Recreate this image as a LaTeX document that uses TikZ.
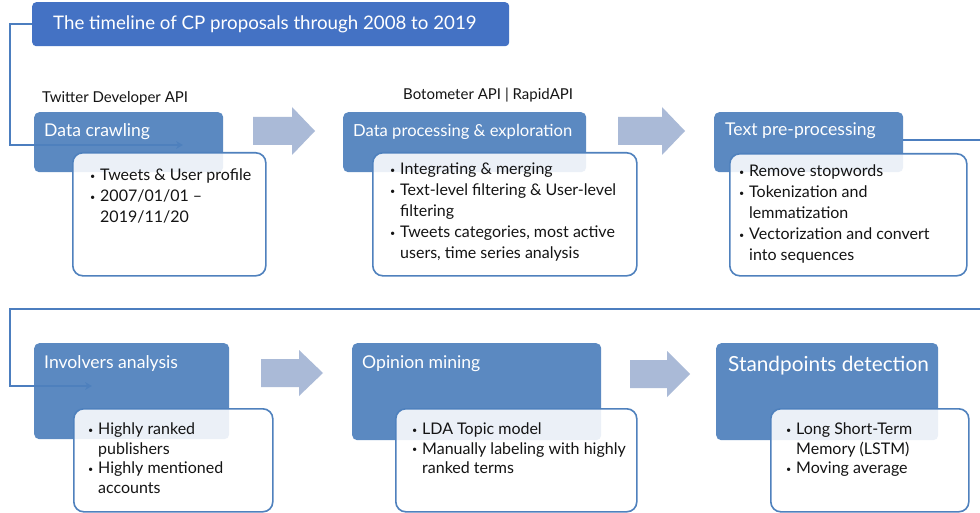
\documentclass[tikz,border=0pt]{standalone}
\usepackage{fontspec}
\setmainfont{Lato}
\usetikzlibrary{arrows.meta}
\definecolor{hdrblue}{RGB}{79,129,189}
\definecolor{titleblue}{RGB}{68,114,196}
\definecolor{arrowblue}{RGB}{170,186,215}
\definecolor{linkblue}{RGB}{76,126,191}
\definecolor{bodytext}{RGB}{20,20,20}
\newcommand\bl{\makebox[10pt][l]{\raisebox{1.5pt}{\fontsize{9}{9}\selectfont\textbullet}}}
\newcommand\ci{\hspace*{10pt}}
\tikzset{
 titlebox/.style={fill=titleblue, rounded corners=4pt, anchor=north west, inner sep=0},
 titletext/.style={text=white, anchor=west, inner sep=0, font=\fontsize{18.7}{22}\selectfont},
 hdrbox/.style={fill=hdrblue, fill opacity=0.93, rounded corners=5pt, anchor=north west, inner sep=0},
 hdrtext/.style={text=white, anchor=west, inner sep=0, font=\fontsize{17.6}{20}\selectfont},
 detbox/.style={draw=hdrblue, line width=1.6pt, fill=white, fill opacity=0.88, rounded corners=10pt, anchor=north west, inner sep=0},
 dettext/.style={anchor=north west, inner sep=0, align=left, text=bodytext, font=\fontsize{16}{21}\selectfont},
 dettextb/.style={dettext, font=\fontsize{16}{19.5}\selectfont},
 apitext/.style={font=\fontsize{15}{17}\selectfont, inner sep=0, anchor=west, text=bodytext},
 link/.style={draw=linkblue, line width=1.8pt},
 bigarrow/.style={fill=arrowblue}
}
\begin{document}
\begin{tikzpicture}[x=1pt,y=-1pt]
\useasboundingbox (0,0) rectangle (980,513);
\clip (0,0) rectangle (980,513);
\fill[white] (0,0) rectangle (980,513);

% title
\node[titlebox, minimum width=477pt, minimum height=44pt] (title) at (32,2) {};
\node[titletext] (titlet) at (53,24) {The timeline of CP proposals through 2008 to 2019};

% API labels
\node[apitext] (api1) at (42,98) {Twitter Developer API};
\node[apitext] (api2) at (403,95) {Botometer API | RapidAPI};

% connectors (drawn below boxes)
\coordinate (c1end) at (183,145);
\draw[link,-{Stealth[length=7pt,width=8pt]}] (title.west) -- ++(-22,0) |- (c1end);

% headers row 1
\node[hdrbox, minimum width=189pt, minimum height=60pt] (h1) at (34,112) {};
\node[hdrbox, minimum width=243pt, minimum height=60pt] (h2) at (343,112) {};
\node[hdrbox, minimum width=189pt, minimum height=60pt] (h3) at (714,112) {};

\coordinate (rtop) at (992,140);
\coordinate (lbot) at (10,309);
\coordinate (c2end) at (92,386);
\draw[link] (h3.east |- rtop) -- (rtop);
\draw[link,-{Stealth[length=7pt,width=8pt]}] (rtop) |- (lbot) |- (c2end);

% headers row 2
\node[hdrbox, minimum width=195pt, minimum height=96pt] (h4) at (34,343) {};
\node[hdrbox, minimum width=249pt, minimum height=97pt] (h5) at (352,343) {};
\node[hdrbox, minimum width=222pt, minimum height=97pt] (h6) at (716,343) {};

% header texts
\node[hdrtext] (h1t) at (44,132) {Data crawling};
\node[hdrtext, font=\fontsize{16.6}{20}\selectfont] (h2t) at (353,132) {Data processing \& exploration};
\node[hdrtext] (h3t) at (725,131) {Text pre-processing};
\node[hdrtext] (h4t) at (44,364) {Involvers analysis};
\node[hdrtext] (h5t) at (362,364) {Opinion mining};
\node[hdrtext, font=\fontsize{20.8}{22}\selectfont] (h6t) at (728,366) {Standpoints detection};

% block arrows
\fill[bigarrow] (253,117) -- (292,117) -- (292,107) -- (315,131) -- (292,155) -- (292,145) -- (253,145) -- cycle;
\fill[bigarrow] (618,117) -- (662,117) -- (662,107) -- (685,131) -- (662,155) -- (662,145) -- (618,145) -- cycle;
\fill[bigarrow] (261,359) -- (299,359) -- (299,350) -- (323,373) -- (299,396) -- (299,387) -- (261,387) -- cycle;
\fill[bigarrow] (630,360) -- (667,360) -- (667,351) -- (690,374) -- (667,397) -- (667,388) -- (630,388) -- cycle;

% detail boxes
\node[detbox, minimum width=193pt, minimum height=123pt] (d1) at (72,152) {};
\node[detbox, minimum width=264pt, minimum height=123pt] (d2) at (372,152) {};
\node[detbox, minimum width=237pt, minimum height=122pt] (d3) at (729,153) {};
\node[detbox, minimum width=199pt, minimum height=103pt] (d4) at (73,408) {};
\node[detbox, minimum width=241pt, minimum height=103pt] (d5) at (395,408) {};
\node[detbox, minimum width=198pt, minimum height=103pt] (d6) at (770,408) {};

% detail texts
\node[dettext] (d1t) at (90,169) {\bl Tweets \& User profile\\ \bl 2007/01/01 –\\ \ci 2019/11/20};
\node[dettext] (d2t) at (390,163) {\bl Integrating \& merging\\ \bl Text-level filtering \& User-level\\ \ci filtering\\ \bl Tweets categories, most active\\ \ci users, time series analysis};
\node[dettext] (d3t) at (739,165) {\bl Remove stopwords\\ \bl Tokenization and\\ \ci lemmatization\\ \bl Vectorization and convert\\ \ci into sequences};
\node[dettextb] (d4t) at (88,423) {\bl Highly ranked\\ \ci publishers\\ \bl Highly mentioned\\ \ci accounts};
\node[dettextb] (d5t) at (412,423) {\bl LDA Topic model\\ \bl Manually labeling with highly\\ \ci ranked terms};
\node[dettextb] (d6t) at (786,423) {\bl Long Short-Term\\ \ci Memory (LSTM)\\ \bl Moving average};
\end{tikzpicture}
\end{document}
